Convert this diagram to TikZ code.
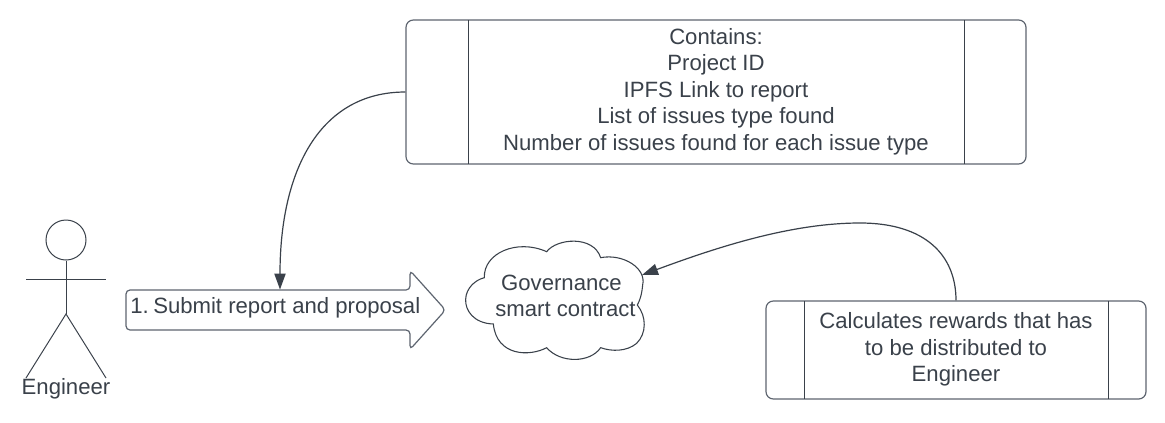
\documentclass[tikz,border=0pt]{standalone}
\usepackage{fontspec}
\setmainfont{Liberation Sans}
\usetikzlibrary{arrows.meta}
\definecolor{ink}{HTML}{3A414A}
\definecolor{edge}{HTML}{5E6570}
\tikzset{
  x=0.75pt,y=-0.75pt,
  lbl/.style={text=ink,font=\fontsize{16.6pt}{19.9pt}\selectfont,align=center,inner sep=0pt},
  procbox/.style={draw=edge,line width=0.9pt,rounded corners=5.5pt,fill=white,inner sep=0pt,minimum width=#1},
  bar/.style={draw=ink,line width=0.75pt},
  stick/.style={draw=ink,line width=0.75pt},
  conn/.style={draw=ink,line width=0.9pt,-{Triangle[length=12pt,width=8.5pt]}},
}
\begin{document}
\begin{tikzpicture}
\useasboundingbox (0,0) rectangle (1165,422);
\fill[white] (0,0) rectangle (1165,422);
% top box
\node[procbox=465pt,minimum height=108pt] (info) at (716,92) {};
\draw[bar] (468.5,20) -- (468.5,164);
\draw[bar] (964.5,20) -- (964.5,164);
\node[lbl] (infotext) at (716,91.5) {Contains:\\Project ID\\IPFS Link to report\\List of issues type found\\Number of issues found for each issue type};
% bottom box
\node[procbox=285pt,minimum height=73.5pt] (calc) at (956,350) {};
\draw[bar] (804.5,301) -- (804.5,399);
\draw[bar] (1108.5,301) -- (1108.5,399);
\node[lbl] (calctext) at (956,349.5) {Calculates rewards that has\\to be distributed to\\Engineer};
% actor
\node[draw=ink,line width=0.75pt,circle,minimum size=30pt,inner sep=0pt] (head) at (66,240) {};
\coordinate (hip) at (66,314);
\coordinate (armL) at (26,279);
\coordinate (armR) at (106,279);
\coordinate (footL) at (26,378);
\coordinate (footR) at (106,378);
\draw[stick] (head.south) -- (hip);
\draw[stick] (armL) -- (armR);
\draw[stick] (footL) -- (hip) -- (footR);
\node[lbl] (actor) at (66,389) {Engineer};
% arrow
\draw[draw=edge,line width=0.9pt,fill=white,rounded corners=3pt]
  (126,290) -- (410,290) -- (410,270.5) -- (445.5,310) -- (410,349.5) -- (410,330) -- (126,330) -- cycle;
\node[lbl,anchor=west] (submit) at (130,308) {1.\kern-1.2pt\ Submit report and proposal};
\coordinate (submittop) at (280,289.5);
% cloud
\begin{scope}[shift={(450,210)},x=0.25pt,y=-0.25pt]
\draw[draw=ink,line width=0.8pt,fill=white]
  (290,125) .. controls (320,85) and (430,75) .. (452,143)
  .. controls (520,130) and (590,175) .. (578,225)
  .. controls (575,255) and (570,270) .. (562,285)
  .. controls (590,320) and (590,370) .. (560,400)
  .. controls (530,425) and (485,425) .. (452,413)
  .. controls (420,460) and (330,460) .. (290,413)
  .. controls (240,440) and (140,440) .. (130,342)
  .. controls (70,340) and (45,300) .. (47,268)
  .. controls (48,235) and (75,210) .. (103,203)
  .. controls (100,130) and (200,85) .. (290,125) -- cycle;
\coordinate (cloudin) at (576,195);
\end{scope}
\node[lbl] (gov) at (565.5,296) {Governance\kern6pt\\smart contract};
% connectors
\draw[conn] (info.west) .. controls (320,92) and (280,170) .. (submittop);
\draw[conn] (calc.north) .. controls (956,255) and (925,223) .. (860,223) .. controls (790,223) and (715,248) .. (cloudin);
\end{tikzpicture}
\end{document}
